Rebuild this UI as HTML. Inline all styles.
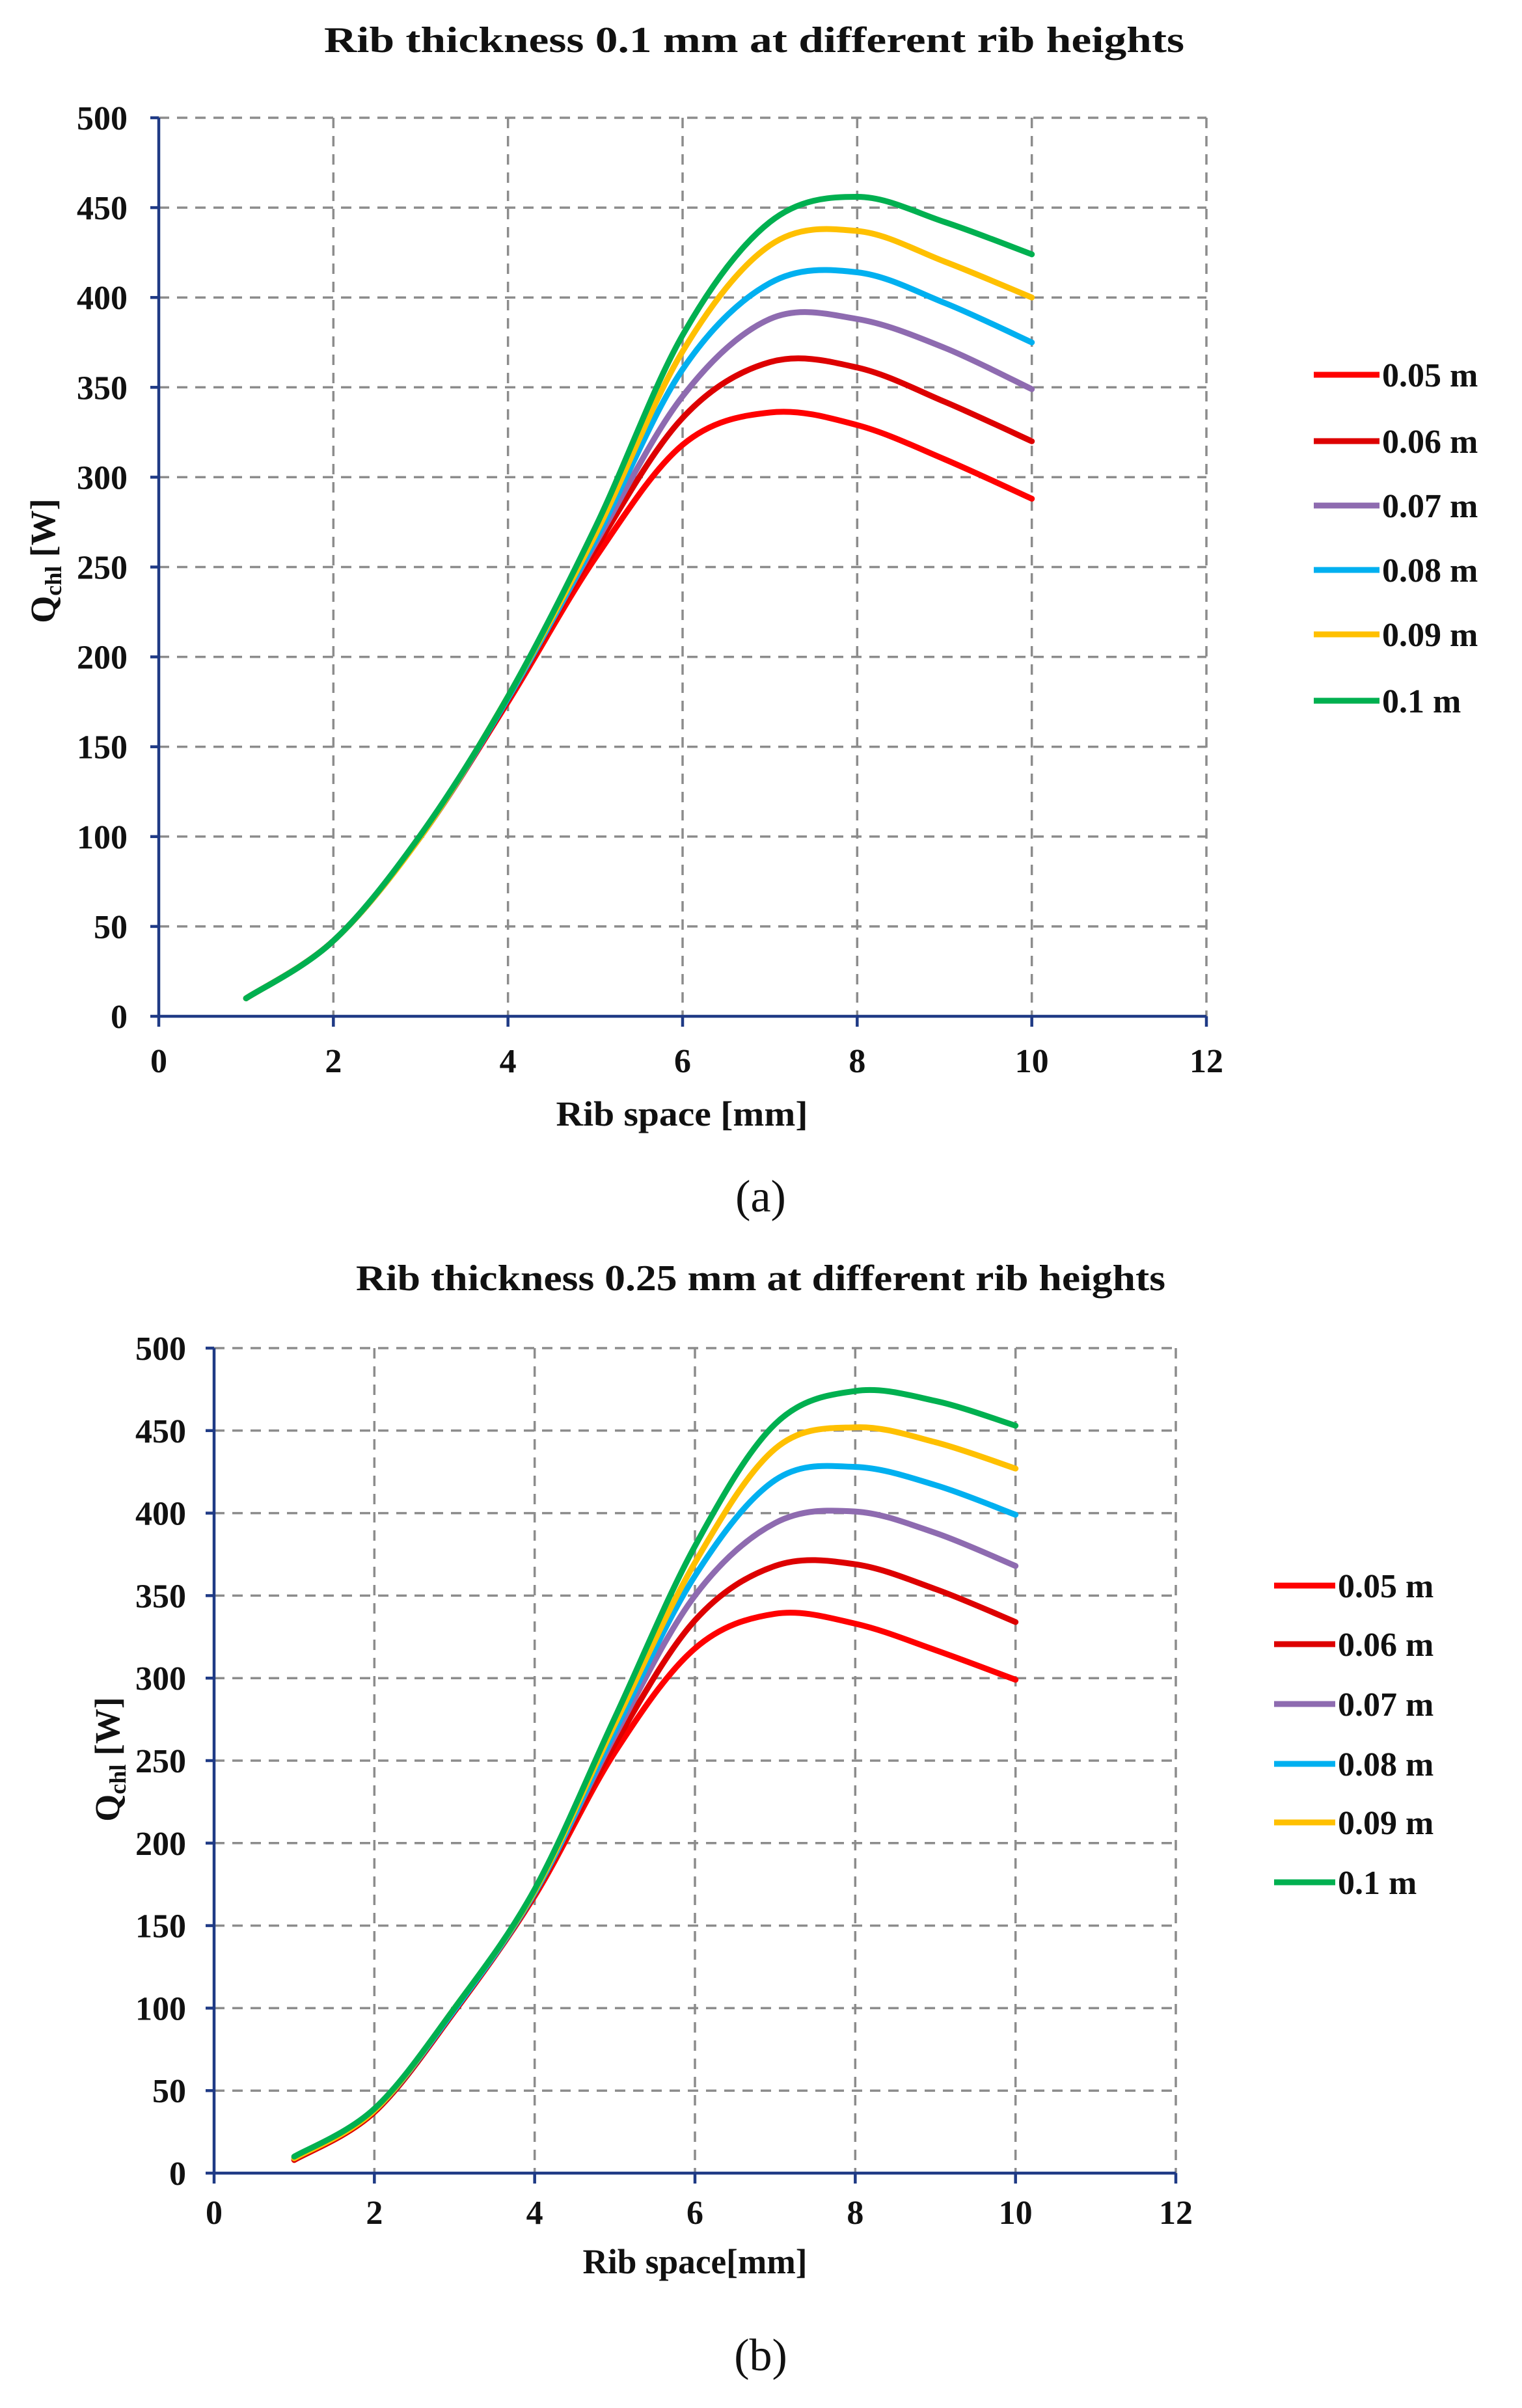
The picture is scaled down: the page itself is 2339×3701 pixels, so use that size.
<!DOCTYPE html>
<html><head><meta charset="utf-8"><style>
html,body{margin:0;padding:0;background:#fff;}
svg{display:block;font-family:"Liberation Serif",serif;}
</style></head><body>
<svg id="fig" width="2339" height="3701" viewBox="0 0 2339 3701" xmlns="http://www.w3.org/2000/svg"></svg>
<script>
const xs = [1,2,3,4,5,6,7,8,9,10];
const seriesNames = ["0.05 m","0.06 m","0.07 m","0.08 m","0.09 m","0.1 m"];
const seriesColors = ["#FF0000","#DD0000","#8E6BB0","#00B0F0","#FFC000","#00B050"];
const xTicks = [0,2,4,6,8,10,12];
const yTicks = [0,50,100,150,200,250,300,350,400,450,500];
// chart (a) rib thickness 0.1 mm
const a005 = [10,42,100,175,255,318,336,329,310,288];
const a006 = [10,42,100,176,260,333,364,361,342,320];
const a007 = [10,42,100,177,263,345,388,388,372,349];
const a008 = [10,42,100,177,265,360,408,414,397,375];
const a009 = [10,42,100,178,268,370,429,437,420,400];
const a010 = [10,42,101,178,272,379,442,456,442,424];
// chart (b) rib thickness 0.25 mm
const b005 = [8,37,98,168,255,318,339,333,317,299];
const b006 = [8,37,98,169,260,335,368,369,354,334];
const b007 = [9,38,99,170,265,350,394,401,388,368];
const b008 = [9,38,99,170,268,362,420,428,417,399];
const b009 = [9,38,100,171,272,370,439,452,443,427];
const b010 = [10,39,100,172,276,380,454,474,468,453];

const NS="http://www.w3.org/2000/svg";
const svg=document.getElementById('fig');
function mk(tag,attrs,parent){const e=document.createElementNS(NS,tag);for(const k in attrs)e.setAttribute(k,attrs[k]);(parent||svg).appendChild(e);return e;}
function txt(s,attrs,parent){const e=mk('text',attrs,parent);e.textContent=s;return e;}

function smooth(pts){
  let d="M"+pts[0][0]+","+pts[0][1];
  for(let i=0;i<pts.length-1;i++){
    const p0=pts[Math.max(i-1,0)],p1=pts[i],p2=pts[i+1],p3=pts[Math.min(i+2,pts.length-1)];
    const c1x=p1[0]+(p2[0]-p0[0])/6,c1y=p1[1]+(p2[1]-p0[1])/6;
    const c2x=p2[0]-(p3[0]-p1[0])/6,c2y=p2[1]-(p3[1]-p1[1])/6;
    d+=" C"+c1x.toFixed(1)+","+c1y.toFixed(1)+" "+c2x.toFixed(1)+","+c2y.toFixed(1)+" "+p2[0].toFixed(1)+","+p2[1].toFixed(1);
  }
  return d;
}

function chart(cfg){
  const g=mk('g',{});
  
  
  const L=cfg.left,R=cfg.right,T=cfg.top,B=cfg.bottom;
  const sx=v=>L+(v-0)/12*(R-L);
  const sy=v=>B-(v/500)*(B-T);
  // grid
  const grid=mk('g',{stroke:"#8c8c8c","stroke-width":3.5,"stroke-dasharray":"16,12",fill:"none"},g);
  
  
  yTicks.forEach(v=>{if(v>0){const l=mk('line',{x1:L,x2:R,y1:sy(v),y2:sy(v)},grid);}});
  xTicks.forEach(v=>{if(v>0){const l=mk('line',{x1:sx(v),x2:sx(v),y1:T,y2:B},grid);}});
  // axes
  const ax=mk('g',{stroke:"#1F3A85","stroke-width":4.5,fill:"none"},g);
  
  
  mk('line',{x1:L,x2:L,y1:T,y2:B},ax);
  mk('line',{x1:L,x2:R,y1:B,y2:B},ax);
  yTicks.forEach(v=>mk('line',{x1:L-13,x2:L,y1:sy(v),y2:sy(v)},ax));
  xTicks.forEach(v=>mk('line',{x1:sx(v),x2:sx(v),y1:B,y2:B+16},ax));
  // tick labels
  yTicks.forEach(v=>{const t=txt(String(v),{x:cfg.yLabelX,y:sy(v)+18,"text-anchor":"end","font-size":52,"font-weight":"bold",fill:"#111"},g);});
  xTicks.forEach(v=>{const t=txt(String(v),{x:sx(v),y:cfg.xLabelY,"text-anchor":"middle","font-size":52,"font-weight":"bold",fill:"#111"},g);});
  // series
  cfg.data.forEach((arr,i)=>{
    const pts=xs.map((x,j)=>[sx(x),sy(arr[j])]);
    const p=mk('path',{d:smooth(pts),fill:"none",stroke:seriesColors[i],"stroke-width":9,"stroke-linecap":"round","stroke-linejoin":"round"},g);
    
    
  });
  // title
  const ti=txt(cfg.title,{x:cfg.titleX,y:cfg.titleY,"text-anchor":"middle","font-size":56,"font-weight":"bold",fill:"#111",textLength:cfg.titleW,lengthAdjust:"spacingAndGlyphs"},g);
  
  
  // x title
  const xt=txt(cfg.xTitle,{x:cfg.xTitleX,y:cfg.xTitleY,"text-anchor":"middle","font-size":54,"font-weight":"bold",fill:"#111",textLength:cfg.xTitleW,lengthAdjust:"spacingAndGlyphs"},g);
  
  
  // y title
  const yt=mk('text',{transform:"translate("+cfg.yTitleX+","+cfg.yTitleY+") rotate(-90)","text-anchor":"middle","font-size":54,"font-weight":"bold",fill:"#111"},g);
  
  
  const t1=mk('tspan',{},yt);t1.textContent="Q";
  const t2=mk('tspan',{"font-size":36,dy:10},yt);t2.textContent="chl";
  const t3=mk('tspan',{dy:-10},yt);t3.textContent=" [W]";
  // legend
  const lg=mk('g',{},g);
  
  
  seriesNames.forEach((n,i)=>{
    const y=cfg.legY[i];
    const e=mk('g',{},lg);
    
    
    mk('line',{x1:cfg.legX1,x2:cfg.legX2,y1:y,y2:y,stroke:seriesColors[i],"stroke-width":9},e);
    txt(n,{x:cfg.legX2+4,y:y+18,"font-size":52,"font-weight":"bold",fill:"#111"},e);
  });
  // caption
  const c=txt(cfg.caption,{x:1169,y:cfg.capY,"text-anchor":"middle","font-size":70,fill:"#111"},g);
  
  
}

chart({id:'chart-a',left:244,right:1854,top:181,bottom:1562,yLabelX:196,xLabelY:1648,
  data:[a005,a006,a007,a008,a009,a010],title:"Rib thickness  0.1 mm at different  rib heights",titleX:1159,titleY:80,titleW:1322,
  xTitle:"Rib space [mm]",xTitleX:1048,xTitleY:1730,xTitleW:387,yTitleX:84,yTitleY:862,
  legX1:2019,legX2:2120,legY:[576,678,777,876,975,1077],caption:"(a)",capY:1862});
chart({id:'chart-b',left:329,right:1807,top:2072,bottom:3340,yLabelX:286,xLabelY:3418,
  data:[b005,b006,b007,b008,b009,b010],title:"Rib thickness  0.25 mm at different  rib heights",titleX:1169,titleY:1983,titleW:1244,
  xTitle:"Rib space[mm]",xTitleX:1068,xTitleY:3494,xTitleW:345,yTitleX:183,yTitleY:2704,
  legX1:1958,legX2:2052,legY:[2437,2527,2619,2711,2801,2893],caption:"(b)",capY:3643});
</script>
</body></html>
